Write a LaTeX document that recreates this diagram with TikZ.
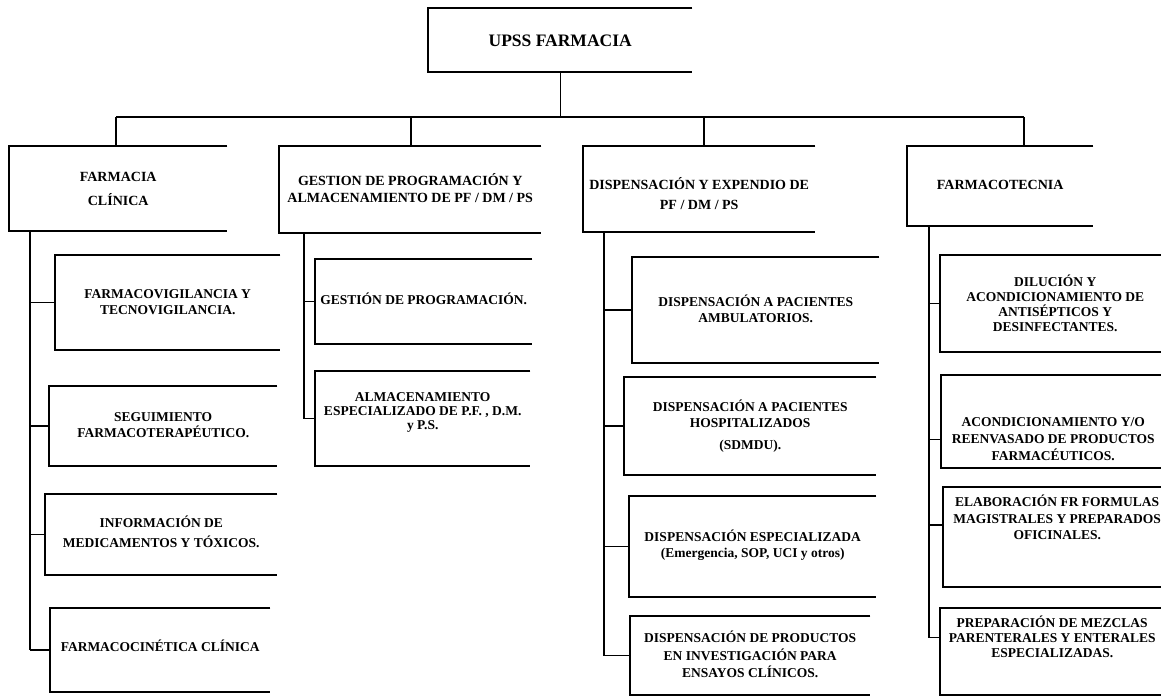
\documentclass[tikz,border=0pt]{standalone}
\usepackage{fontspec}
\setmainfont{Liberation Serif}
\usetikzlibrary{positioning}

\tikzset{
  orgbox/.style={anchor=base west, inner xsep=0pt, inner ysep=0pt, align=center,
    font=\bfseries\fontsize{13.5}{16}\selectfont},
  headbox/.style={orgbox, font=\bfseries\fontsize{14}{17}\selectfont},
  boxline/.style={line width=1.8pt},
  linkline/.style={line width=1.3pt},
}

\begin{document}
\begin{tikzpicture}[x=1pt,y=-1pt]
\useasboundingbox (0,0) rectangle (1161,697);

% Top unit
\node[headbox, font=\bfseries\fontsize{17.5}{20}\selectfont, minimum width=264pt, text height=38pt, text depth=26pt] (upss) at (428,46) {UPSS FARMACIA};

% Area headers (y = last baseline)
\node[headbox, minimum width=218pt, text height=59.6pt, text depth=25.4pt] (clinica) at (9,205.6) {FARMACIA\\[7pt]CLÍNICA};
\node[headbox, minimum width=262pt, text height=56.6pt, text depth=30.4pt] (gestion) at (279,202.6) {GESTION DE PROGRAMACIÓN Y\\ALMACENAMIENTO DE PF / DM / PS};
\node[headbox, minimum width=232pt, text height=63.6pt, text depth=22.4pt] (dispensa) at (583,209.6) {DISPENSACIÓN Y EXPENDIO DE\\[3pt]PF / DM / PS};
\node[headbox, minimum width=186pt, text height=43.5pt, text depth=36.5pt] (tecnia) at (907,189.5) {FARMACOTECNIA};

% Farmacia clinica
\node[orgbox, minimum width=225pt, text height=59.5pt, text depth=35.5pt] (fvig) at (55,314.5) {FARMACOVIGILANCIA Y\\TECNOVIGILANCIA.};
\node[orgbox, minimum width=228pt, text height=51.5pt, text depth=28.5pt] (seguim) at (49,437.5) {SEGUIMIENTO\\FARMACOTERAPÉUTICO.};
\node[orgbox, minimum width=232pt, text height=53.5pt, text depth=27.5pt] (infomed) at (45,547.5) {INFORMACIÓN DE\\[4pt]MEDICAMENTOS Y TÓXICOS.};
\node[orgbox, minimum width=220pt, text height=43.5pt, text depth=40.5pt] (fcin) at (50,651.5) {FARMACOCINÉTICA CLÍNICA};

% Gestion de programacion
\node[orgbox, minimum width=217pt, text height=45.5pt, text depth=39.5pt] (gprog) at (315,304.5) {GESTIÓN DE PROGRAMACIÓN.};
\node[orgbox, font=\bfseries\fontsize{13.5}{14}\selectfont, minimum width=215pt, text height=58.5pt, text depth=36.5pt] (almac) at (315,429.5) {ALMACENAMIENTO\\ESPECIALIZADO DE P.F. , D.M.\\y P.S.};

% Dispensacion
\node[orgbox, minimum width=247pt, text height=65.5pt, text depth=40.5pt] (dambu) at (632,322.5) {DISPENSACIÓN A PACIENTES\\AMBULATORIOS.};
\node[orgbox, minimum width=252pt, text height=72.5pt, text depth=25.5pt] (dhosp) at (624,449.5) {DISPENSACIÓN A PACIENTES\\HOSPITALIZADOS\\[6pt](SDMDU).};
\node[orgbox, minimum width=247pt, text height=61.5pt, text depth=39.5pt] (despec) at (629,557.5) {DISPENSACIÓN ESPECIALIZADA\\(Emergencia, SOP, UCI y otros)};
\node[orgbox, font=\bfseries\fontsize{13.5}{17.5}\selectfont, minimum width=240pt, text height=61.5pt, text depth=17.5pt] (dinves) at (630,677.5) {DISPENSACIÓN DE PRODUCTOS\\EN INVESTIGACIÓN PARA\\ENSAYOS CLÍNICOS.};

% Farmacotecnia
\node[orgbox, font=\bfseries\fontsize{13.5}{15}\selectfont, minimum width=230pt, text height=76.5pt, text depth=20.5pt] (dilucion) at (940,331.5) {DILUCIÓN Y\\ACONDICIONAMIENTO DE\\ANTISÉPTICOS Y\\DESINFECTANTES.};
\node[orgbox, font=\bfseries\fontsize{13.5}{17}\selectfont, minimum width=224pt, text height=85.5pt, text depth=7.5pt] (reenvas) at (941,460.5) {ACONDICIONAMIENTO Y/O\\REENVASADO DE PRODUCTOS\\FARMACÉUTICOS.};
\node[orgbox, font=\bfseries\fontsize{13.5}{16.5}\selectfont, minimum width=228pt, text height=52.5pt, text depth=47.5pt] (elabor) at (943,539.5) {ELABORACIÓN FR FORMULAS\\MAGISTRALES Y PREPARADOS\\OFICINALES.};
\node[orgbox, font=\bfseries\fontsize{13.5}{15}\selectfont, minimum width=224pt, text height=49.5pt, text depth=37.5pt] (mezclas) at (940,657.5) {PREPARACIÓN DE MEZCLAS\\PARENTERALES Y ENTERALES\\ESPECIALIZADAS.};

% Box outlines, open on the right
\foreach \n in {upss,clinica,gestion,dispensa,tecnia,fvig,seguim,infomed,fcin,gprog,almac,dambu,dhosp,despec,dinves,dilucion,reenvas,elabor,mezclas}
  \draw[boxline] (\n.north east) -| (\n.south west) -- (\n.south east);

% Bus under the top unit
\coordinate (busw) at (116,117);
\coordinate (bus2) at (411,117);
\coordinate (bus3) at (704,117);
\coordinate (buse) at (1024,117);
\draw[linkline] (upss.south) -- (upss.south |- busw);
\draw[linkline] (busw) -- (buse);
\draw[linkline] (busw) -- (busw |- clinica.north);
\draw[linkline] (bus2) -- (bus2 |- gestion.north);
\draw[linkline] (bus3) -- (bus3 |- dispensa.north);
\draw[linkline] (buse) -- (buse |- tecnia.north);

% Trunks
\coordinate (t1) at (30,0);
\coordinate (t2) at (304,0);
\coordinate (t3) at (604,0);
\coordinate (t4) at (929,0);
\draw[linkline] (t1 |- clinica.south) -- (t1 |- fcin.west);
\draw[linkline] (t2 |- gestion.south) -- (t2 |- almac.west);
\draw[linkline] (t3 |- dispensa.south) -- (t3 |- dinves.west);
\draw[linkline] (t4 |- tecnia.south) -- (t4 |- mezclas.173);

% Branches
\foreach \n in {fvig,seguim,infomed,fcin}
  \draw[linkline] (t1 |- \n.west) -- (\n.west);
\foreach \n in {gprog,almac}
  \draw[linkline] (t2 |- \n.west) -- (\n.west);
\foreach \n in {dambu,dhosp,despec,dinves}
  \draw[linkline] (t3 |- \n.west) -- (\n.west);
\draw[linkline] (t4 |- dilucion.west) -- (dilucion.west);
\draw[linkline] (t4 |- reenvas.189) -- (reenvas.189);
\draw[linkline] (t4 |- elabor.174) -- (elabor.174);
\draw[linkline] (t4 |- mezclas.173) -- (mezclas.173);
\end{tikzpicture}
\end{document}
